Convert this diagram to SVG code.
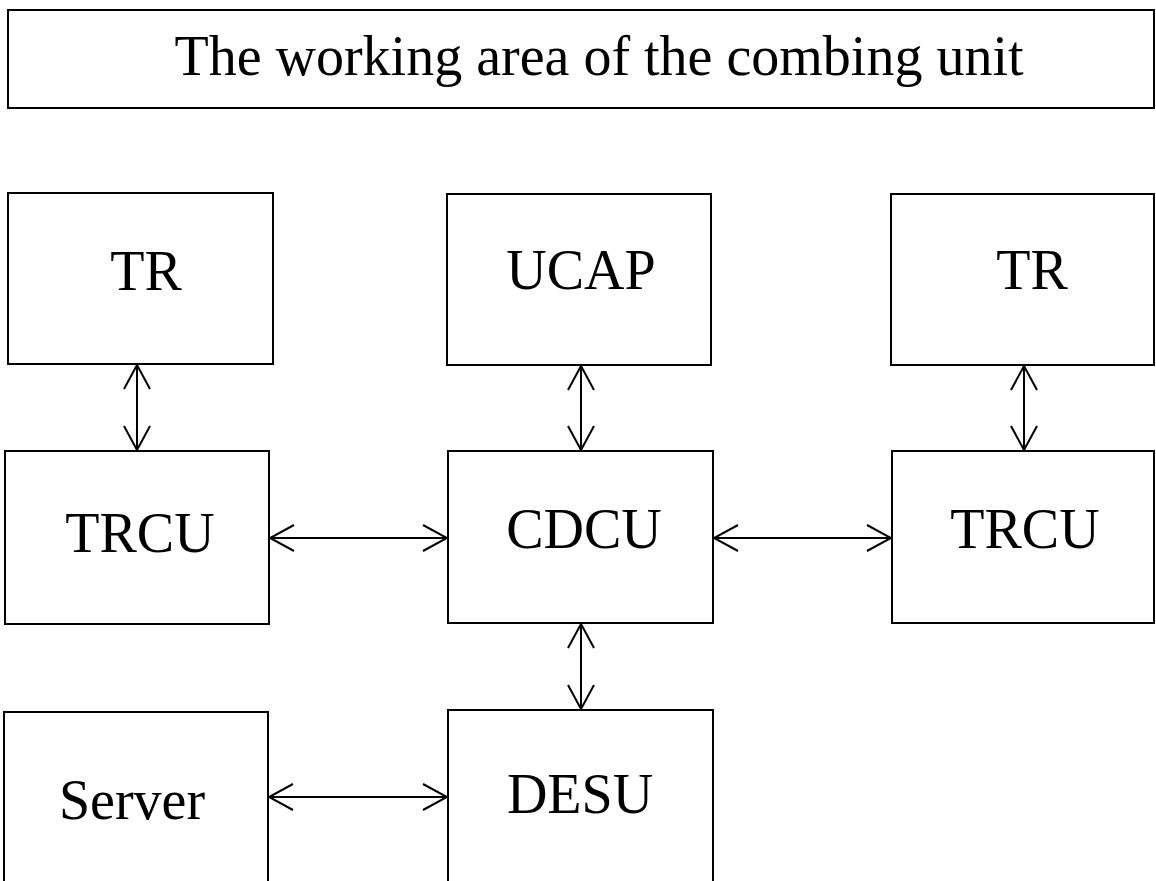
<svg xmlns="http://www.w3.org/2000/svg" width="1156" height="881" viewBox="0 0 1156 881">
<style>
.box{fill:#fff;stroke:#000;stroke-width:2}
.lbl{font-family:"Liberation Serif","Times New Roman",serif;font-size:56px;fill:#000;text-anchor:middle}
.conn{stroke:#000;stroke-width:2;fill:none;marker-start:url(#ah);marker-end:url(#ah)}
</style>
<defs>
<marker id="ah" markerUnits="userSpaceOnUse" viewBox="-27 -15 29 30" markerWidth="29" markerHeight="30" refX="0" refY="0" orient="auto-start-reverse">
<path d="M-24,-13 L0,0 L-24,13" fill="none" stroke="#000" stroke-width="2"/>
</marker>
</defs>
<rect width="1156" height="881" fill="#fff"/>
<g id="title">
<rect class="box" x="8" y="10" width="1146" height="98"/>
<text class="lbl" x="599" y="75">The working area of the combing unit</text>
</g>
<g id="tr-left">
<rect class="box" x="8" y="193" width="265" height="171"/>
<text class="lbl" x="146" y="290">TR</text>
</g>
<g id="ucap">
<rect class="box" x="447" y="194" width="264" height="171"/>
<text class="lbl" x="581" y="289">UCAP</text>
</g>
<g id="tr-right">
<rect class="box" x="891" y="194" width="263" height="171"/>
<text class="lbl" x="1032" y="289">TR</text>
</g>
<g id="trcu-left">
<rect class="box" x="5" y="451" width="264" height="173"/>
<text class="lbl" x="140" y="552">TRCU</text>
</g>
<g id="cdcu">
<rect class="box" x="448" y="451" width="265" height="172"/>
<text class="lbl" x="584" y="548">CDCU</text>
</g>
<g id="trcu-right">
<rect class="box" x="892" y="451" width="262" height="172"/>
<text class="lbl" x="1025" y="548">TRCU</text>
</g>
<g id="server">
<rect class="box" x="4" y="712" width="264" height="200"/>
<text class="lbl" x="132" y="819">Server</text>
</g>
<g id="desu">
<rect class="box" x="448" y="710" width="265" height="200"/>
<text class="lbl" x="580" y="813">DESU</text>
</g>
<g id="connectors">
<line class="conn" x1="137" y1="365" x2="137" y2="450"/>
<line class="conn" x1="581" y1="366" x2="581" y2="450"/>
<line class="conn" x1="1024" y1="366" x2="1024" y2="450"/>
<line class="conn" x1="581" y1="624" x2="581" y2="709"/>
<line class="conn" x1="270" y1="538" x2="447" y2="538"/>
<line class="conn" x1="714" y1="538" x2="891" y2="538"/>
<line class="conn" x1="269" y1="797" x2="447" y2="797"/>
</g>
</svg>
